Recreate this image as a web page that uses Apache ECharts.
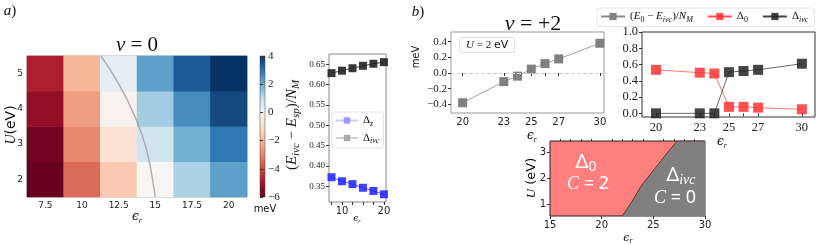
<!DOCTYPE html>
<html><head><meta charset="utf-8">
<script src="https://cdn.jsdelivr.net/npm/echarts@6/dist/echarts.min.js"></script>
<style>html,body{margin:0;padding:0;background:#fff}#c{width:822px;height:245px}</style>
</head><body><div id="c"></div>
<script>
// ---- panel a: heatmap ----
const heatEps = ['7.5','10','12.5','15','17.5','20'];
const heatU = ['2','3','4','5'];
const heatU2 = [-6.0,-3.4,-1.55,-0.05,1.25,2.2];
const heatU3 = [-5.8,-2.9,-0.85,0.7,1.9,2.9];
const heatU4 = [-5.3,-2.5,-0.25,1.35,2.55,3.6];
const heatU5 = [-4.8,-2.0,0.35,2.2,3.35,3.95];
const curveEps = [11.29,12.47,13.61,14.41,14.98,15.0];
const curveU = [5.5,4.73,3.78,2.83,1.56,1.5];
const colorbarTicks = [-6,-4,-2,0,2,4];
// ---- panel a: small plot ----
const smallEps = [7.5,10,12.5,15,17.5,20];
const deltaZ = [0.372,0.362,0.355,0.346,0.338,0.330];
const deltaIvcA = [0.628,0.634,0.640,0.646,0.651,0.655];
const smallYTicks = [0.35,0.40,0.45,0.50,0.55,0.60,0.65];
const smallXLabels = [10,20];
const smallXTicks = [7.5,10,12.5,15,17.5,20];
// ---- panel b ----
const epsB = [20,23,24,25,26,27,30];
const energyDiff = [-0.38,-0.11,-0.04,0.05,0.12,0.18,0.38];
const delta0 = [0.535,0.50,0.49,0.08,0.08,0.07,0.05];
const deltaIvcB = [0,0,0,0.506,0.52,0.535,0.61];
const bXLabels = [20,23,25,27,30];
const bXTicks = [20,23,24,25,26,27,30];
const bLeftYTicks = [-0.4,-0.2,0,0.2,0.4];
const bRightYTicks = [0,0.2,0.4,0.6,0.8,1.0];
// ---- phase diagram ----
const phaseEps = [22.0,22.9,23.87,25.16,26.3,27.3,30];
const phaseU = [0.55,1.09,1.74,2.39,2.97,3.45,3.45];
const phaseXLabels = [15,20,25,30];
const phaseXMinor = [16,17,18,19,21,22,23,24,26,27,28,29];
const phaseYLabels = [1,2,3];

const rdbu = ['#67001f','#a61429','#ca4842','#e58368','#f7b799','#fce0cf','#f7f7f7','#c1ddeb','#6aacd0','#2a71b2','#053061'];
const SERIF = 'Liberation Serif';
const SANS = 'DejaVu Sans';
const minus = s => String(s).replace('-', '\u2212');
const zip = (a,b) => a.map((v,i)=>[v,b[i]]);

const heatData = [];
[heatU2,heatU3,heatU4,heatU5].forEach((row,yi)=>row.forEach((v,xi)=>heatData.push([xi,yi,v])));

const cbStops = rdbu.map((c,i)=>({offset: 1 - i/(rdbu.length-1), color: c}));

function richSet(fs){
  const sub = Math.round(fs*0.7);
  return {
    r:{fontFamily:SERIF,fontSize:fs,color:'#111',fill:'#111'},
    i:{fontFamily:SERIF,fontStyle:'italic',fontSize:fs,color:'#111',fill:'#111'},
    g:{fontFamily:'DejaVu Serif',fontStyle:'italic',fontSize:fs,color:'#111',fill:'#111'},
    sa:{fontFamily:SANS,fontSize:fs,color:'#111',fill:'#111'},
    s:{fontFamily:SERIF,fontStyle:'italic',fontSize:sub,color:'#111',fill:'#111',padding:[Math.round(fs*0.55),0,0,0]},
    sr:{fontFamily:SERIF,fontSize:sub,color:'#111',fill:'#111',padding:[Math.round(fs*0.55),0,0,0]}
  };
}
function T(x,y,text,fs,extra){
  return Object.assign({type:'text',x:x,y:y,silent:true,z:100,
    style:{text:text,rich:richSet(fs),align:'center',verticalAlign:'middle',fontSize:fs,fontFamily:SERIF,fill:'#111'}}, extra||{});
}
function whiteRich(fs){
  const sub = Math.round(fs*0.72);
  return {
    r:{fontFamily:'Noto Sans',fontSize:fs,fill:'#fff',color:'#fff'},
    i:{fontFamily:SERIF,fontStyle:'italic',fontSize:fs,fill:'#fff',color:'#fff'},
    s:{fontFamily:SERIF,fontStyle:'italic',fontSize:sub,fill:'#fff',color:'#fff',padding:[Math.round(fs*0.5),0,0,0]},
    sr:{fontFamily:'Noto Sans',fontSize:sub,fill:'#fff',color:'#fff',padding:[Math.round(fs*0.5),0,0,0]}
  };
}
function W(x,y,text,fs){
  return {type:'text',x:x,y:y,silent:true,z:100,style:{text:text,rich:whiteRich(fs),align:'center',verticalAlign:'middle',fill:'#fff'}};
}

const legendNames = {
  a_z:'{r|Δ}{s|z}', a_ivc:'{r|Δ}{s|ivc}',
  b_E:'{r|(}{i|E}{sr|0}{r| − }{i|E}{s|ivc}{r|)/}{i|N}{s|M}', b_0:'{r|Δ}{sr|0}', b_ivc:'{r|Δ}{s|ivc}'
};

const noSplit = {show:false};
function valAxis(grid, min, max, labels, ticks, font, fs, fmt, extra){
  return Object.assign({type:'value', gridIndex:grid, min:min, max:max, splitLine:noSplit,
    axisLine:{show:false},
    axisTick:{show:true, customValues:ticks, length:3, lineStyle:{color:'#333'}},
    axisLabel:{customValues:labels, fontFamily:font, fontSize:fs, color:'#222', margin:4, formatter:fmt}}, extra||{});
}

const option = {
  animation:false,
  backgroundColor:'#fff',
  grid:[
    {left:27, top:56, width:220, height:141, show:true, borderColor:'#aaa', borderWidth:1},
    {left:27, top:56, width:220, height:141},
    {left:260, top:56, width:5, height:141, show:true, borderColor:'#444', borderWidth:0.5,
      backgroundColor:{type:'linear',x:0,y:0,x2:0,y2:1,colorStops:cbStops}},
    {left:329, top:54, width:57, height:148, show:true, borderColor:'#888', borderWidth:1},
    {left:451, top:32, width:153, height:81, show:true, borderColor:'#999', borderWidth:1},
    {left:642, top:32, width:173, height:85, show:true, borderColor:'#333', borderWidth:1},
    {left:550, top:141, width:155, height:75, show:true, borderColor:'#222', borderWidth:1, backgroundColor:'#ff7f7f'}
  ],
  xAxis:[
    {type:'category', gridIndex:0, data:heatEps, axisLine:{show:false},
      axisTick:{alignWithLabel:true, length:3, lineStyle:{color:'#333'}},
      axisLabel:{fontFamily:SANS, fontSize:9, color:'#222', margin:4}},
    {type:'value', gridIndex:1, min:6.25, max:21.25, show:false, splitLine:noSplit},
    {type:'value', gridIndex:2, min:0, max:1, show:false, splitLine:noSplit},
    valAxis(3, 6.9, 20.5, smallXLabels, smallXTicks, SANS, 10, v=>String(v)),
    valAxis(4, 19.15, 30.3, bXLabels, bXTicks, SANS, 10, v=>String(v)),
    valAxis(5, 19.04, 30.9, bXLabels, bXTicks, SERIF, 12.5, v=>String(v)),
    valAxis(6, 15, 30, phaseXLabels, phaseXLabels, SANS, 10, v=>String(v)),
    {type:'value', gridIndex:6, min:15, max:30, splitLine:noSplit, axisLine:{show:false},
      axisLabel:{show:false}, axisTick:{show:true, customValues:phaseXMinor, length:2, lineStyle:{color:'#333'}}}
  ],
  yAxis:[
    {type:'category', gridIndex:0, data:heatU, axisLine:{show:false},
      axisTick:{alignWithLabel:true, length:3, lineStyle:{color:'#333'}},
      axisLabel:{fontFamily:SANS, fontSize:9, color:'#222', margin:4}},
    {type:'value', gridIndex:1, min:1.5, max:5.5, show:false, splitLine:noSplit},
    {type:'value', gridIndex:2, min:-6, max:4, interval:2, position:'right', splitLine:noSplit,
      axisLine:{show:false}, axisTick:{length:3, lineStyle:{color:'#333'}},
      axisLabel:{fontFamily:SERIF, fontSize:11, color:'#222', margin:3, formatter:v=>minus(v)}},
    valAxis(3, 0.311, 0.675, smallYTicks, smallYTicks, SERIF, 9, v=>v.toFixed(2)),
    valAxis(4, -0.511, 0.524, bLeftYTicks, bLeftYTicks, SERIF, 11, v=>minus(v.toFixed(1))),
    valAxis(5, -0.045, 1.0, bRightYTicks, bRightYTicks, SERIF, 12.5, v=>v.toFixed(1)),
    valAxis(6, 0.55, 3.45, phaseYLabels, phaseYLabels, SANS, 10, v=>String(v))
  ],
  visualMap:{show:false, type:'continuous', min:-6, max:4, seriesIndex:0, inRange:{color:rdbu}},
  legend:[
    {data:[{name:'a_z', itemStyle:{color:'#9a9aff'}, lineStyle:{color:'#c8c8ff'}},
           {name:'a_ivc', itemStyle:{color:'#a8a8a8'}, lineStyle:{color:'#cfcfcf'}}],
      left:332, top:112, orient:'vertical', itemWidth:22, itemHeight:8, itemGap:5,
      padding:[3,4,3,3], borderColor:'#e4e4e4', borderWidth:1, borderRadius:2, backgroundColor:'rgba(255,255,255,0.85)',
      formatter:n=>legendNames[n], textStyle:{rich:richSet(11)}, selectedMode:false},
    {data:['b_E','b_0','b_ivc'], left:597, top:8, orient:'horizontal', itemWidth:24, itemHeight:9, itemGap:14,
      padding:[3,6,3,3], borderColor:'#e4e4e4', borderWidth:1, borderRadius:3,
      formatter:n=>legendNames[n], textStyle:{rich:richSet(11)}, selectedMode:false}
  ],
  series:[
    {type:'heatmap', xAxisIndex:0, yAxisIndex:0, data:heatData, silent:true},
    {type:'line', xAxisIndex:1, yAxisIndex:1, data:zip(curveEps,curveU), smooth:true, symbol:'none', silent:true,
      lineStyle:{color:'rgba(150,150,150,0.7)', width:1.5}},
    {name:'a_z', type:'line', xAxisIndex:3, yAxisIndex:3, data:zip(smallEps,deltaZ), symbol:'rect', symbolSize:8,
      itemStyle:{color:'rgba(30,30,255,0.85)'}, lineStyle:{color:'rgba(60,60,255,0.8)', width:1}},
    {name:'a_ivc', type:'line', xAxisIndex:3, yAxisIndex:3, data:zip(smallEps,deltaIvcA), symbol:'rect', symbolSize:8,
      itemStyle:{color:'rgba(30,30,30,0.88)'}, lineStyle:{color:'rgba(30,30,30,0.8)', width:1}},
    {name:'b_E', type:'line', xAxisIndex:4, yAxisIndex:4, data:zip(epsB,energyDiff), symbol:'rect', symbolSize:9,
      itemStyle:{color:'#808080'}, lineStyle:{color:'#8a8a8a', width:0.8},
      markLine:{silent:true, symbol:'none', label:{show:false}, lineStyle:{type:'dashed', color:'#cfcfcf', width:1}, data:[{yAxis:0}]}},
    {name:'b_0', type:'line', xAxisIndex:5, yAxisIndex:5, data:zip(epsB,delta0), symbol:'rect', symbolSize:10,
      itemStyle:{color:'rgba(255,50,50,0.85)'}, lineStyle:{color:'rgba(255,50,50,0.85)', width:0.8}},
    {name:'b_ivc', type:'line', xAxisIndex:5, yAxisIndex:5, data:zip(epsB,deltaIvcB), symbol:'rect', symbolSize:10,
      itemStyle:{color:'rgba(35,35,35,0.85)'}, lineStyle:{color:'rgba(35,35,35,0.85)', width:0.8}},
    {type:'line', xAxisIndex:6, yAxisIndex:6, data:zip(phaseEps,phaseU), symbol:'none', silent:true,
      lineStyle:{color:'#4a2222', width:0.8}, areaStyle:{color:'#808080', opacity:1, origin:'start'}}
  ],
  graphic:[
    T(10,11,'{i|a}{r|)}',15),
    T(137,45,'{i|ν}{r| = 0}',21),
    T(11,125,'{i|U}{sa|(eV)}',14,{rotation:Math.PI/2}),
    T(137,217,'{g|ϵ}{s|r}',12),
    T(265,209,'{sa|meV}',10),
    T(292,125,'{r|(}{i|E}{s|ivc}{r| − }{i|E}{s|sp}{r|)/}{i|N}{s|M}',15,{rotation:Math.PI/2}),
    T(357,219,'{g|ϵ}{s|r}',9),
    T(418,12,'{i|b}{r|)}',15),
    T(533,24,'{i|ν}{r| = +2}',22),
    T(416,57,'{sa|meV}',10,{rotation:Math.PI/2}),
    {type:'text', x:460, y:38, silent:true, z:100, style:{text:'{i|U}{r| = 2 }{sa|eV}', rich:richSet(11),
      padding:[2,6,1,6], borderColor:'#dddddd', borderWidth:1, borderRadius:3, backgroundColor:'#fff'}},
    T(532,136,'{g|ϵ}{s|r}',12),
    T(722,142,'{g|ϵ}{s|r}',12),
    T(532,178,'{i|U}{sa| (eV)}',13,{rotation:Math.PI/2}),
    T(628,238,'{g|ϵ}{s|r}',11),
    W(586,162,'{r|Δ}{sr|0}',20),
    W(588,184,'{i|C}{r| = 2}',18),
    W(681,175,'{r|Δ}{s|ivc}',20),
    W(675,198,'{i|C}{r| = 0}',18)
  ]
};
const chart = echarts.init(document.getElementById('c'), null, {renderer:'canvas'});
chart.setOption(option);
</script></body></html>
